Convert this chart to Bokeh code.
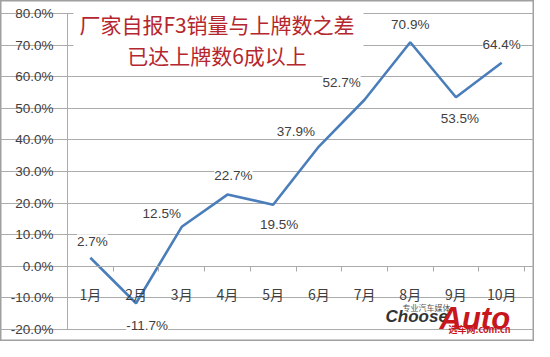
from bokeh.plotting import figure
from bokeh.models import (ColumnDataSource, LabelSet, Label, BoxAnnotation,
                          FixedTicker, PrintfTickFormatter, LinearAxis)
from bokeh.embed import file_html
from bokeh.resources import INLINE
from bokeh.core.properties import value

# ---------------- data ----------------
months = ["1月", "2月", "3月", "4月", "5月", "6月", "7月", "8月", "9月", "10月"]
values = [2.7, -11.7, 12.5, 22.7, 19.5, 37.9, 52.7, 70.9, 53.5, 64.4]
value_labels = ["2.7%", "-11.7%", "12.5%", "22.7%", "19.5%",
                "37.9%", "52.7%", "70.9%", "53.5%", "64.4%"]
y_ticks = [-20, -10, 0, 10, 20, 30, 40, 50, 60, 70, 80]
title_lines = ["厂家自报F3销量与上牌数之差", "已达上牌数6成以上"]

# label placement (pixels, relative to each point)
label_dx = [2, 11, -20, 6, 6, -23, -23, 0, 4, 0]
label_dy = [16, -22, 13, 19, -20, 15, 17, 18, -21, 18]

# ---------------- geometry ----------------
W, H = 534, 341
Y_MIN, Y_MAX = -20, 80
n = len(months)
PX_X = 45.7          # pixels per category
PX_Y = 3.16          # pixels per percentage point
LEFT, TOP = 67, 13   # plot-area origin inside the canvas
xs = [i + 0.5 for i in range(n)]
bounds = list(range(n + 1))


def px_x(X):  # reference page pixel -> data x
    return (X - 75) / PX_X


def px_y(Y):  # reference page pixel -> data y
    return Y_MAX - (Y - 21) / PX_Y


x_range = (-LEFT / PX_X, (W - LEFT) / PX_X)
y_range = (Y_MAX - (H - TOP) / PX_Y, Y_MAX + TOP / PX_Y)

GRID = "#ababab"
TXT = "#404040"
RED = "#b5272f"
NUMFONT = "Liberation Sans"

p = figure(width=W, height=H, x_range=x_range, y_range=y_range,
           x_axis_type=None, output_backend="svg", toolbar_location=None,
           min_border=0)
p.outline_line_color = "#a0a0a0"
p.outline_line_width = 2
p.background_fill_color = "white"
p.border_fill_color = "white"

# y axis inside the canvas, at x = 0
yax = p.yaxis[0]
yax.fixed_location = 0
yax.bounds = (Y_MIN, Y_MAX)
yax.ticker = FixedTicker(ticks=y_ticks)
yax.formatter = PrintfTickFormatter(format="%.1f%%")
yax.axis_line_color = GRID
yax.major_tick_line_color = GRID
yax.major_tick_out = 6
yax.major_tick_in = 0
yax.minor_tick_line_color = None
yax.major_label_standoff = 8
yax.major_label_text_font = NUMFONT
yax.major_label_text_font_size = "13.5px"
yax.major_label_text_color = TXT

p.ygrid.ticker = FixedTicker(ticks=y_ticks)
p.ygrid.bounds = (0, n)
p.ygrid.grid_line_color = GRID
p.ygrid.grid_line_width = 1

# category axis line at y = 0 with boundary ticks
xax = LinearAxis(fixed_location=0, bounds=(0, n),
                 ticker=FixedTicker(ticks=bounds),
                 axis_line_color=GRID, major_tick_line_color=GRID,
                 major_tick_out=5, major_tick_in=0,
                 minor_tick_line_color=None,
                 major_label_text_font_size="0px",
                 major_label_text_alpha=0)
p.add_layout(xax, "below")

msrc = ColumnDataSource(dict(x=xs, y=[0] * n, t=months))
p.add_layout(LabelSet(x="x", y="y", text="t", source=msrc, y_offset=-27.5,
                      text_align="center", text_baseline="middle",
                      text_font=value("Noto Sans CJK SC"), text_font_size="14px",
                      text_color=TXT))

# data line
src = ColumnDataSource(dict(x=xs, y=values, t=value_labels,
                            dx=label_dx, dy=label_dy))
p.line("x", "y", source=src, line_color="#4a7ebb", line_width=2.6)

p.add_layout(LabelSet(x="x", y="y", text="t", source=src,
                      x_offset="dx", y_offset="dy",
                      text_align="center", text_baseline="middle",
                      text_font=value(NUMFONT), text_font_size="13.5px",
                      text_color=TXT, background_fill_color="white"))

# title box
p.add_layout(BoxAnnotation(left=px_x(81), right=px_x(371), bottom=px_y(77),
                           top=px_y(14), fill_color="white", fill_alpha=1,
                           line_color=None))
for line_txt, Y in zip(title_lines, [31, 62]):
    p.add_layout(Label(x=px_x(224.5), y=px_y(Y), text=line_txt,
                       text_align="center", text_baseline="middle",
                       text_font="Noto Sans CJK SC", text_font_size="21px",
                       text_color=RED))

# watermark
p.add_layout(Label(x=px_x(393), y=px_y(324), text="Choose",
                   text_font="Liberation Sans", text_font_style="bold italic",
                   text_font_size="17px", text_color="#333333",
                   text_baseline="alphabetic"))
p.add_layout(Label(x=px_x(410), y=px_y(315), text="专业汽车媒体",
                   text_font="Noto Sans CJK SC", text_font_size="8px",
                   text_color="#555555", text_baseline="alphabetic"))
p.add_layout(Label(x=px_x(447), y=px_y(325.5), text="Auto",
                   text_font="Liberation Sans", text_font_style="bold italic",
                   text_font_size="31px", text_color="#c8161d",
                   text_baseline="alphabetic"))
p.add_layout(Label(x=px_x(456), y=px_y(337), text="选车网.com.cn",
                   text_font="Noto Sans CJK SC", text_font_style="bold",
                   text_font_size="9px", text_color="#c8161d",
                   text_baseline="alphabetic"))

open("out.html", "w").write(file_html(p, INLINE))
